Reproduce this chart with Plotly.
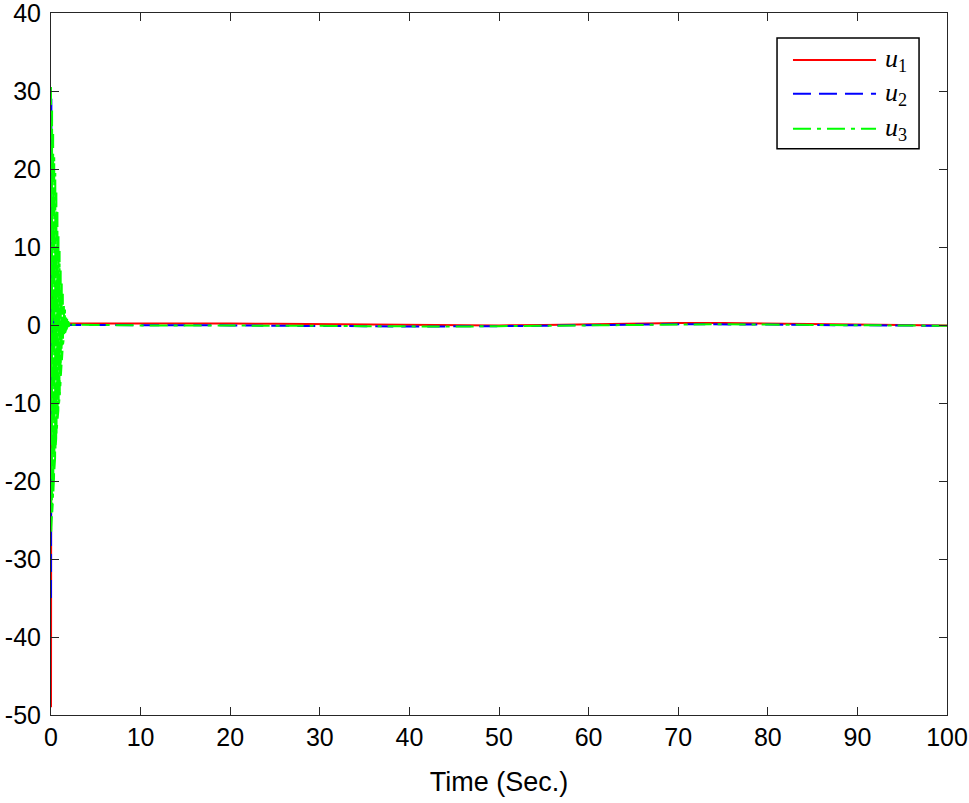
import plotly.graph_objects as go

# transient time samples (s) for u1, u2
t_tr = [0.00, 0.04, 0.08, 0.12, 0.16, 0.20, 0.24, 0.28, 0.32, 0.36,
        0.40, 0.44, 0.48, 0.52, 0.56, 0.60, 0.64, 0.68, 0.72, 0.76,
        0.80, 0.84, 0.88, 0.92, 0.96, 1.00, 1.04, 1.08, 1.12, 1.16,
        1.20, 1.24, 1.28, 1.32, 1.36, 1.40, 1.44, 1.48, 1.52, 1.56,
        1.60, 1.64, 1.68, 1.72, 1.76, 1.80, 1.84, 1.88, 1.92, 1.96,
        2.00, 2.04, 2.08, 2.12, 2.16, 2.20, 2.24, 2.28, 2.32, 2.36, 2.40]
# transient time samples (s) for u3 (finer)
t3_tr = [0.00, 0.02, 0.04, 0.06, 0.08, 0.10, 0.12, 0.14, 0.16, 0.18,
         0.20, 0.22, 0.24, 0.26, 0.28, 0.30, 0.32, 0.34, 0.36, 0.38,
         0.40, 0.42, 0.44, 0.46, 0.48, 0.50, 0.52, 0.54, 0.56, 0.58,
         0.60, 0.62, 0.64, 0.66, 0.68, 0.70, 0.72, 0.74, 0.76, 0.78,
         0.80, 0.82, 0.84, 0.86, 0.88, 0.90, 0.92, 0.94, 0.96, 0.98,
         1.00, 1.02, 1.04, 1.06, 1.08, 1.10, 1.12, 1.14, 1.16, 1.18,
         1.20, 1.22, 1.24, 1.26, 1.28, 1.30, 1.32, 1.34, 1.36, 1.38,
         1.40, 1.42, 1.44, 1.46, 1.48, 1.50, 1.52, 1.54, 1.56, 1.58,
         1.60, 1.62, 1.64, 1.66, 1.68, 1.70, 1.72, 1.74, 1.76, 1.78,
         1.80, 1.82, 1.84, 1.86, 1.88, 1.90, 1.92, 1.94, 1.96, 1.98,
         2.00, 2.02, 2.04, 2.06, 2.08, 2.10, 2.12, 2.14, 2.16, 2.18,
         2.20, 2.22, 2.24, 2.26, 2.28, 2.30, 2.32, 2.34, 2.36, 2.38, 2.40]
# steady part time samples (s)
t_ss = [3, 5, 10, 15, 20, 25, 30, 35, 40, 45, 50, 55, 60, 65, 70, 75, 80, 85, 90, 95, 100]

u1_tr = [-49.0, 6.0, -4.0, 3.0, -2.5, 2.0, -1.6, 1.3, -1.0, 0.8,
         -0.6, 0.5, -0.4, 0.35, -0.3, 0.3, -0.2, 0.25, -0.1, 0.2,
         0.0, 0.2, 0.05, 0.2, 0.1, 0.2, 0.1, 0.2, 0.15, 0.2,
         0.15, 0.2, 0.15, 0.2, 0.18, 0.2, 0.18, 0.2, 0.18, 0.2,
         0.2, 0.2, 0.2, 0.2, 0.2, 0.2, 0.2, 0.2, 0.2, 0.2,
         0.2, 0.2, 0.2, 0.2, 0.2, 0.2, 0.2, 0.2, 0.2, 0.2, 0.2]
u1_ss = [0.2, 0.2, 0.2, 0.25, 0.2, 0.15, 0.1, 0.05, 0.0, -0.05, -0.05, 0.0, 0.1, 0.2, 0.25, 0.25, 0.2, 0.15, 0.05, 0.0, -0.05]

u2_tr = [-35.0, 29.0, -4.0, 3.0, -2.0, 1.5, -1.0, 0.8, -0.6, 0.5,
         -0.4, 0.3, -0.2, 0.2, -0.1, 0.1, 0.0, 0.05, 0.0, 0.05,
         0.0, 0.05, 0.0, 0.05, 0.0, 0.05, 0.0, 0.05, 0.0, 0.05,
         0.0, 0.02, 0.0, 0.02, 0.0, 0.0, 0.0, 0.0, 0.0, 0.0,
         0.0, 0.0, 0.0, 0.0, 0.0, 0.0, 0.0, 0.0, 0.0, 0.0,
         0.0, 0.0, 0.0, 0.0, 0.0, 0.0, 0.0, 0.0, 0.0, 0.0, 0.0]
u2_ss = [0.0, 0.0, 0.0, 0.0, -0.05, -0.1, -0.1, -0.15, -0.2, -0.2, -0.15, -0.1, 0.0, 0.05, 0.1, 0.1, 0.05, 0.0, -0.05, -0.1, -0.1]

u3_tr = [30.5, -26.5, 29.5, -25.5, 28.5, -24.5, 27.5, -24.0, 26.5, -23.0,
         25.5, -22.5, 24.5, -21.5, 23.5, -20.5, 22.5, -19.5, 21.5, -18.5,
         21.0, -17.5, 20.0, -17.0, 19.5, -16.0, 18.5, -15.5, 18.0, -14.5,
         17.0, -14.0, 16.0, -13.0, 15.0, -12.5, 14.5, -12.0, 13.5, -11.5,
         12.5, -11.0, 11.5, -10.5, 11.0, -10.0, 10.0, -9.5, 9.5, -9.0,
         8.5, -8.0, 8.0, -7.5, 7.0, -6.5, 6.5, -6.0, 6.0, -5.0,
         5.5, -4.5, 5.0, -3.5, 4.5, -3.0, 4.0, -2.5, 3.5, -2.2,
         3.0, -1.8, 2.8, -1.5, 2.5, -1.3, 2.2, -1.1, 2.0, -1.0,
         1.7, -0.85, 1.5, -0.7, 1.3, -0.6, 1.1, -0.5, 1.0, -0.42,
         0.85, -0.35, 0.7, -0.28, 0.6, -0.22, 0.5, -0.18, 0.42, -0.15,
         0.35, -0.12, 0.3, -0.1, 0.25, -0.08, 0.2, -0.05, 0.15, -0.03,
         0.12, -0.01, 0.1, 0.0, 0.08, 0.02, 0.06, 0.03, 0.05, 0.04, 0.05]
u3_ss = [0.05, 0.0, -0.05, -0.05, -0.1, -0.1, -0.1, -0.15, -0.2, -0.2, -0.15, -0.1, 0.0, 0.05, 0.1, 0.1, 0.05, 0.0, -0.05, -0.1, -0.1]

x_ticks = [0, 10, 20, 30, 40, 50, 60, 70, 80, 90, 100]
y_ticks = [-50, -40, -30, -20, -10, 0, 10, 20, 30, 40]

series_names = ["<i>u</i><sub>1</sub>", "<i>u</i><sub>2</sub>", "<i>u</i><sub>3</sub>"]
series_colors = ["#ff0000", "#0000ff", "#00ff00"]
series_dash = ["solid", "18px,8px", "18px,6px,4px,6px"]

series_x = [t_tr + t_ss, t_tr + t_ss, t3_tr + t_ss]
series_y = [u1_tr + u1_ss, u2_tr + u2_ss, u3_tr + u3_ss]

fig = go.Figure()
for name, color, dash, x, y in zip(series_names, series_colors, series_dash, series_x, series_y):
    fig.add_trace(go.Scatter(x=x, y=y, mode="lines",
                             line=dict(color=color, width=2, dash=dash),
                             name=name, showlegend=False))

# manual legend (box, line samples, labels) in paper coordinates
fig.add_shape(type="rect", xref="paper", yref="paper", x0=0.8103, x1=0.9688, y0=0.8065, y1=0.9644,
              line=dict(color="#000000", width=1.5), fillcolor="white", layer="above")
legend_rows_y = [0.9331, 0.8848, 0.8350]
for name, color, dash, yy in zip(series_names, series_colors, series_dash, legend_rows_y):
    fig.add_shape(type="line", xref="paper", yref="paper", x0=0.8281, x1=0.9208, y0=yy, y1=yy,
                  line=dict(color=color, width=2, dash=dash), layer="above")
    fig.add_annotation(xref="paper", yref="paper", x=0.9290, y=yy, xanchor="left", yanchor="middle",
                       text=name, showarrow=False,
                       font=dict(family="Liberation Serif, Times New Roman, serif", size=26, color="#000000"))

tick_font = dict(family="Liberation Sans, Arial, sans-serif", size=25, color="#000000")
axis_common = dict(showgrid=False, zeroline=False, showline=True, linecolor="#262626",
                   linewidth=1, mirror="ticks", ticks="inside", ticklen=8,
                   tickcolor="#262626", tickwidth=1, automargin=False, tickfont=tick_font,
                   ticklabeloverflow="allow")

fig.update_layout(
    width=969, height=803,
    paper_bgcolor="white", plot_bgcolor="white",
    margin=dict(l=51, r=22, t=13, b=88),
    showlegend=False,
    xaxis=dict(range=[0, 100], tickvals=x_ticks, ticktext=[str(v) for v in x_ticks],
               title=dict(text="Time (Sec.)", font=dict(family="Liberation Sans, Arial, sans-serif", size=27, color="#000000"), standoff=22),
               **axis_common),
    yaxis=dict(range=[-50, 40], tickvals=y_ticks, ticktext=[str(v) for v in y_ticks],
               ticklabelstandoff=4, **axis_common),
)

fig.write_html("out.html", config={"displayModeBar": False},
               post_script="document.body.style.margin='0';document.body.style.overflow='hidden';")
